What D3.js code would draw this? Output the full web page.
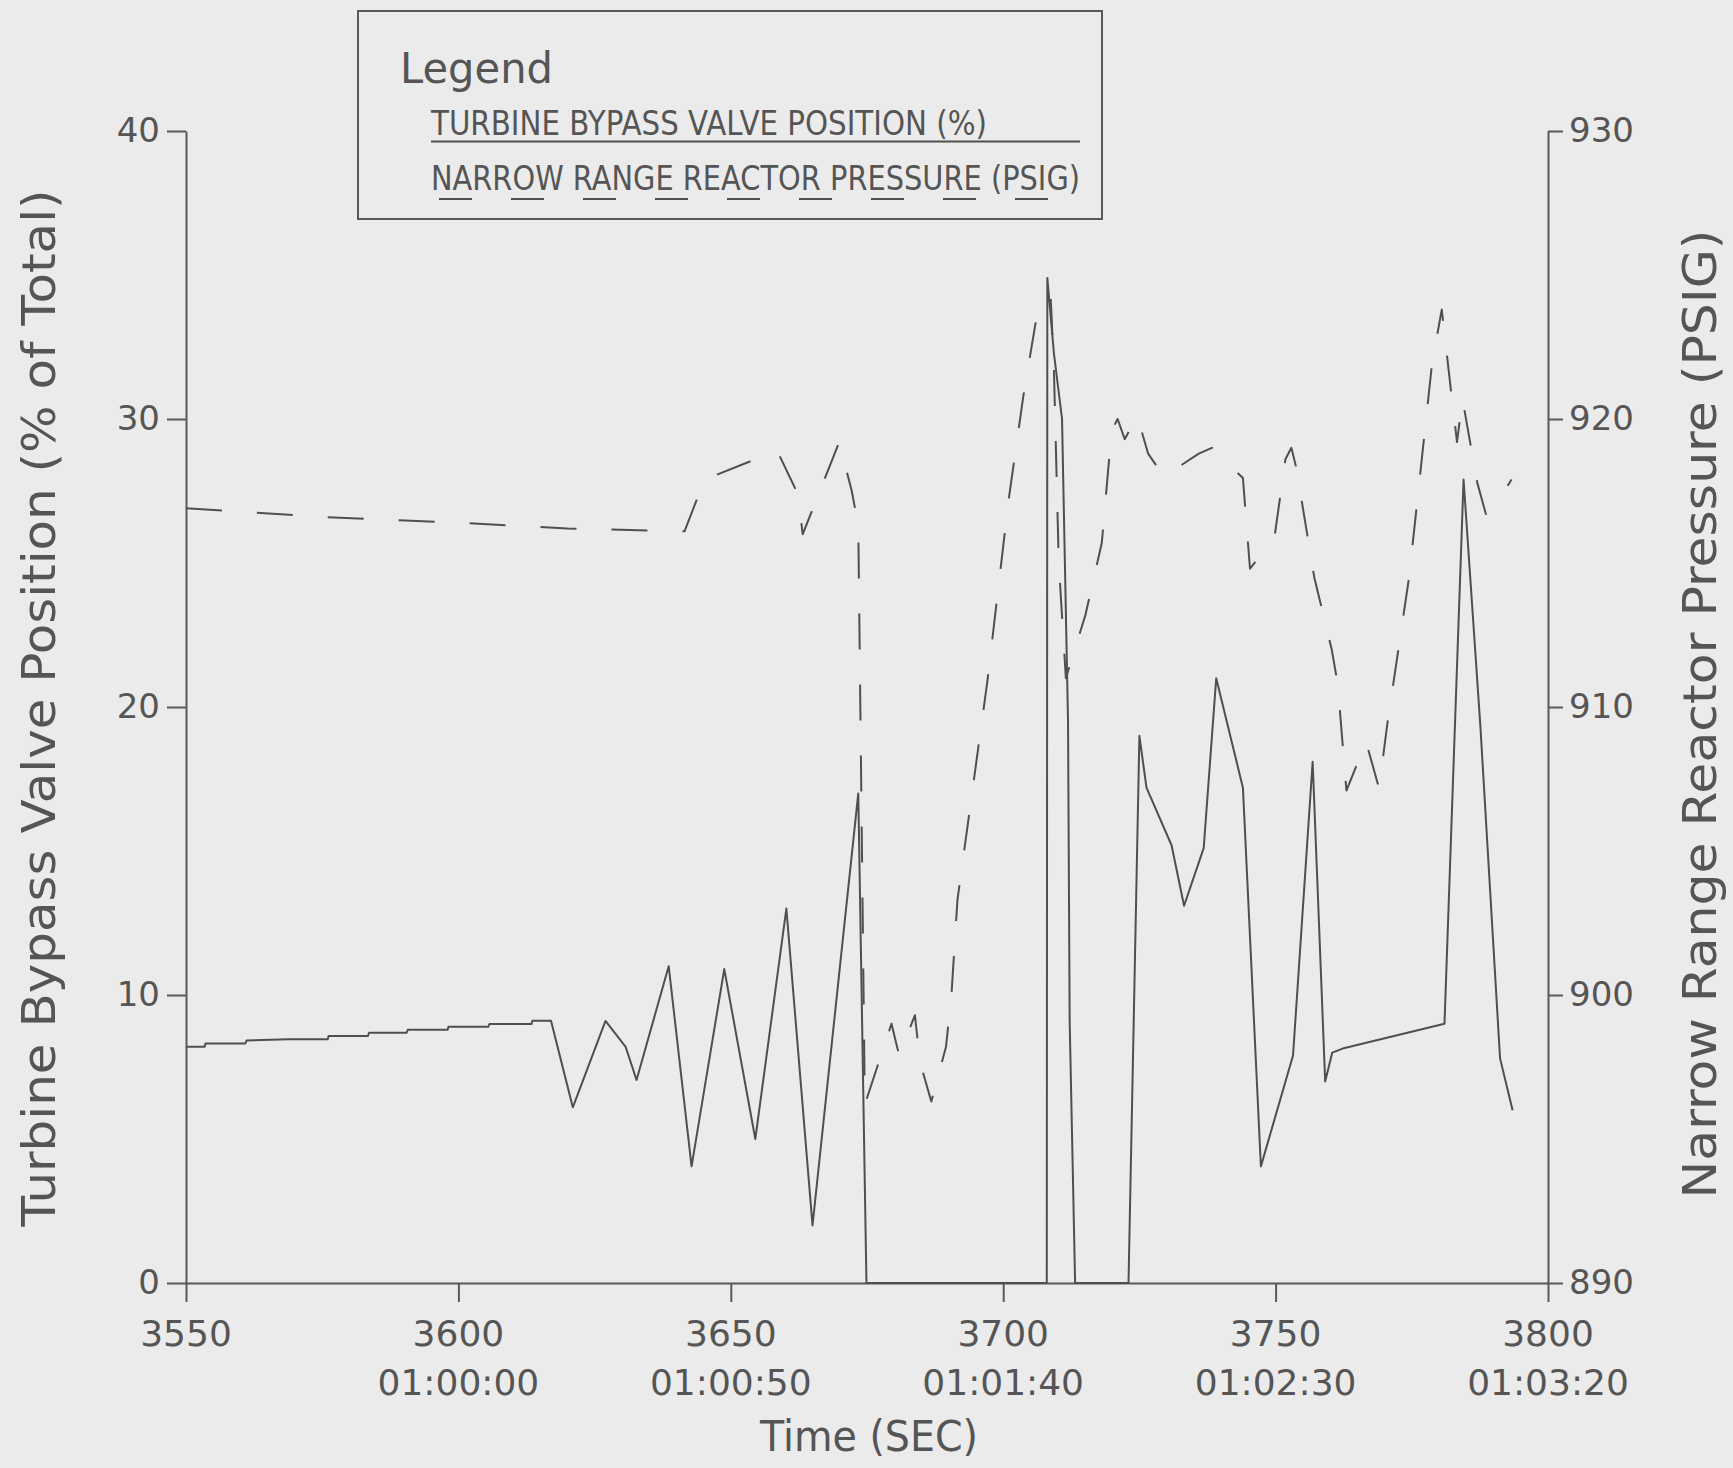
<!DOCTYPE html>
<html>
<head>
	<title>Turbine bypass valve / reactor pressure</title>
	<meta charset="utf-8">
	<script type="text/javascript" src="https://d3js.org/d3.v7.min.js"></script>
	<style type="text/css">
		body {
			margin: 0;
			background: #ebebeb;
		}
		svg {
			display: block;
		}
		.axis path,
		.axis line {
			fill: none;
			stroke: #595959;
			stroke-width: 2;
		}
		.axis text,
		.lbl {
			font-family: "DejaVu Sans", sans-serif;
			fill: #555;
		}
		.axis text {
			font-size: 34px;
		}
		.trace {
			fill: none;
			stroke: #4f4f4f;
			stroke-width: 2;
			stroke-linejoin: round;
		}
	</style>
</head>
<body>

<script type="text/javascript">
	// turbine bypass valve position (% of total), solid line, left axis
	var tbvTime = [3550, 3553.4, 3553.6, 3560.9, 3561.1, 3568.8, 3576.0, 3576.2, 3583.4, 3583.6,
		3590.5, 3590.7, 3598.0, 3598.2, 3605.5, 3605.7, 3613.4, 3613.6, 3617.0,
		3621.0, 3627.0, 3630.7, 3632.7, 3638.6, 3642.8, 3648.8, 3654.5, 3660.2, 3665.0,
		3673.4, 3674.9, 3708.0, 3708.1, 3709.3, 3710.8, 3711.9, 3712.2, 3713.2, 3723.0,
		3725.0, 3726.3, 3730.9, 3733.2, 3736.8, 3739.1, 3744.0, 3747.3, 3753.2, 3756.8,
		3759.1, 3760.4, 3762.3, 3781.0, 3784.5, 3787.6, 3791.2, 3793.5];
	var tbvValue = [8.2, 8.2, 8.32, 8.32, 8.42, 8.46, 8.46, 8.58, 8.58, 8.69,
		8.69, 8.79, 8.79, 8.9, 8.9, 8.99, 8.99, 9.11, 9.11,
		6.1, 9.1, 8.2, 7.05, 11.0, 4.05, 10.9, 5.0, 13.0, 2.0,
		17.0, 0, 0, 34.9, 32.3, 30.0, 19.5, 9.1, 0, 0,
		19.0, 17.2, 15.2, 13.1, 15.1, 21.0, 17.2, 4.05, 7.9, 18.1,
		7.0, 8.0, 8.14, 9.0, 27.9, 19.3, 7.8, 6.0];

	// narrow range reactor pressure (psig), dashed line, right axis
	var nrpTime = [3550, 3575, 3600, 3620, 3641.5, 3645.2, 3658.5, 3662.3, 3663.2, 3669.9,
		3672.2, 3673.4, 3674.6, 3679.5, 3680.9, 3683.8, 3684.7, 3686.8, 3689.5, 3690.5,
		3691.6, 3697.1, 3701.0, 3703.7, 3706.0, 3708.7, 3709.3, 3710.2, 3711.5, 3715.1,
		3718.1, 3719.9, 3721.0, 3722.3, 3724.6, 3726.6, 3729.5, 3735.9, 3738.3, 3744.0,
		3745.3, 3749.8, 3751.8, 3752.9, 3753.8, 3757.1, 3760.3, 3761.4, 3763.0, 3766.6,
		3768.8, 3769.0, 3770.5, 3774.5, 3778.7, 3780.5, 3782.3, 3783.3, 3784.3, 3787.0,
		3788.6, 3790.7, 3793.3];
	var nrpValue = [916.9, 916.6, 916.4, 916.2, 916.1, 917.9, 918.9, 917.4, 916.0, 919.2,
		917.5, 916.3, 896.2, 899.0, 897.9, 899.3, 897.7, 896.3, 898.2, 900.0,
		903.3, 910.9, 917.2, 920.8, 923.4, 924.3, 921.8, 915.0, 911.0, 913.2,
		915.7, 919.6, 920.0, 919.3, 920.1, 918.8, 918.0, 918.8, 919.0, 917.95,
		914.8, 915.9, 918.6, 919.0, 918.3, 914.5, 912.0, 910.8, 907.1, 908.8,
		907.3, 907.2, 909.4, 914.5, 921.9, 923.8, 920.8, 919.2, 920.7, 917.8,
		916.7, 917.1, 917.9];

	// tick labels
	var xTicks = [3550, 3600, 3650, 3700, 3750, 3800];
	var xClock = ["", "01:00:00", "01:00:50", "01:01:40", "01:02:30", "01:03:20"];
	var leftTicks = [0, 10, 20, 30, 40];
	var rightTicks = [890, 900, 910, 920, 930];
	var legendItems = ["TURBINE BYPASS VALVE POSITION (%)", "NARROW RANGE REACTOR PRESSURE (PSIG)"];

	var width = 1733;
	var height = 1468;
	var padding = {left: 186, right: 185, top: 131, bottom: 185};

	var xscale = d3.scaleLinear()
			.domain([3550, 3800])
			.range([padding.left, width - padding.right]);
	var yleft = d3.scaleLinear()
			.domain([0, 40])
			.range([height - padding.bottom, padding.top]);
	var yright = d3.scaleLinear()
			.domain([890, 930])
			.range([height - padding.bottom, padding.top]);

	var svg = d3.select("body")
		.append("svg")
		.attr("width", width)
		.attr("height", height);

	//坐标轴
	svg.append("g")
		.attr("class", "axis")
		.attr("transform", "translate(0," + (height - padding.bottom) + ")")
		.call(d3.axisBottom(xscale).tickValues(xTicks).tickSize(19).tickSizeOuter(0).tickFormat(""));
	svg.append("g")
		.attr("class", "axis")
		.attr("transform", "translate(" + padding.left + ",0)")
		.call(d3.axisLeft(yleft).tickValues(leftTicks).tickSize(19).tickSizeOuter(0).tickPadding(7));
	svg.append("g")
		.attr("class", "axis")
		.attr("transform", "translate(" + (width - padding.right) + ",0)")
		.call(d3.axisRight(yright).tickValues(rightTicks).tickSize(15).tickSizeOuter(0).tickPadding(6));

	// x tick labels: seconds and clock time
	svg.selectAll(".xnum")
		.data(xTicks)
		.enter()
		.append("text")
		.attr("class", "lbl xnum")
		.attr("x", function(d){ return xscale(d); })
		.attr("y", 1346)
		.attr("text-anchor", "middle")
		.style("font-size", "36px")
		.text(function(d){ return d; });
	svg.selectAll(".xclock")
		.data(xTicks)
		.enter()
		.append("text")
		.attr("class", "lbl xclock")
		.attr("x", function(d){ return xscale(d); })
		.attr("y", 1395)
		.attr("text-anchor", "middle")
		.style("font-size", "36px")
		.text(function(d, i){ return xClock[i]; });

	// axis titles
	svg.append("text")
		.attr("class", "lbl")
		.attr("transform", "translate(55,708) rotate(-90)")
		.attr("text-anchor", "middle")
		.attr("textLength", 1037)
		.attr("lengthAdjust", "spacingAndGlyphs")
		.style("font-size", "47px")
		.text("Turbine Bypass Valve Position (% of Total)");
	svg.append("text")
		.attr("class", "lbl")
		.attr("transform", "translate(1716,714) rotate(-90)")
		.attr("text-anchor", "middle")
		.attr("textLength", 969)
		.attr("lengthAdjust", "spacingAndGlyphs")
		.style("font-size", "47px")
		.text("Narrow Range Reactor Pressure (PSIG)");
	svg.append("text")
		.attr("class", "lbl")
		.attr("x", 869)
		.attr("y", 1451)
		.attr("text-anchor", "middle")
		.attr("textLength", 218)
		.attr("lengthAdjust", "spacingAndGlyphs")
		.style("font-size", "42px")
		.text("Time (SEC)");

	// data traces
	var tbvLine = d3.line()
		.x(function(d, i){ return xscale(tbvTime[i]); })
		.y(function(d){ return yleft(d); });
	var nrpLine = d3.line()
		.x(function(d, i){ return xscale(nrpTime[i]); })
		.y(function(d){ return yright(d); });

	svg.append("path")
		.attr("class", "trace")
		.attr("d", nrpLine(nrpValue))
		.attr("stroke-dasharray", "36,35");
	svg.append("path")
		.attr("class", "trace")
		.attr("d", tbvLine(tbvValue));

	// legend
	var legend = svg.append("g");
	legend.append("rect")
		.attr("x", 358)
		.attr("y", 11)
		.attr("width", 744)
		.attr("height", 208)
		.attr("fill", "none")
		.attr("stroke", "#595959")
		.attr("stroke-width", 2);
	legend.append("text")
		.attr("class", "lbl")
		.attr("x", 400)
		.attr("y", 83)
		.attr("textLength", 153)
		.attr("lengthAdjust", "spacingAndGlyphs")
		.style("font-size", "42px")
		.text("Legend");

	var itemY = [135, 190];
	var itemW = [556, 649];
	legend.selectAll(".item")
		.data(legendItems)
		.enter()
		.append("text")
		.attr("class", "lbl item")
		.attr("x", 431)
		.attr("y", function(d, i){ return itemY[i]; })
		.attr("textLength", function(d, i){ return itemW[i]; })
		.attr("lengthAdjust", "spacingAndGlyphs")
		.style("font-size", "33px")
		.text(function(d){ return d; });
	legend.append("line")
		.attr("class", "trace")
		.attr("x1", 431).attr("x2", 1080)
		.attr("y1", 141.5).attr("y2", 141.5);
	legend.append("line")
		.attr("class", "trace")
		.attr("x1", 439).attr("x2", 1080)
		.attr("y1", 199).attr("y2", 199)
		.attr("stroke-dasharray", "33,39");
</script>

</body>
</html>
